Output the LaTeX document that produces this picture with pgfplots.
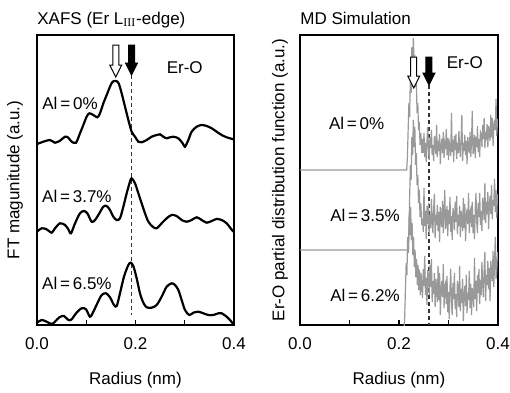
\documentclass[border=0pt]{standalone}
\usepackage{fontspec}
\setmainfont{Liberation Sans}
\usepackage{pgfplots}
\pgfplotsset{compat=1.18}
\usepackage{pgfplotstable}

% XAFS data (x in nm, y in arbitrary units)
\pgfplotstableread{
x y
0.000 181.0
0.0129 183.3
0.0264 185.0
0.0365 182.3
0.0467 184.3
0.0569 188.3
0.0636 187.3
0.0704 183.3
0.0792 182.3
0.0873 191.7
0.0941 200.0
0.1008 208.3
0.1063 211.7
0.1144 210.0
0.1225 207.7
0.1279 211.7
0.1347 221.7
0.1415 230.0
0.1482 238.3
0.1536 243.3
0.1604 244.0
0.1658 241.7
0.1719 231.7
0.1787 218.3
0.1855 205.0
0.1922 193.3
0.1990 188.3
0.2058 183.3
0.2125 182.7
0.2227 185.0
0.2328 188.3
0.2430 190.0
0.2497 190.7
0.2565 188.3
0.2633 186.7
0.2701 187.7
0.2768 188.3
0.2870 186.7
0.2958 181.7
0.3005 178.3
0.3073 185.0
0.3140 193.3
0.3242 198.3
0.3344 200.0
0.3445 199.0
0.3547 196.7
0.3648 193.3
0.3750 190.0
0.3851 187.7
0.3919 186.7
0.3986 185.7
}\xafsA
\pgfplotstableread{
x y
0.000 93.3
0.0095 96.7
0.0196 95.7
0.0298 92.3
0.0365 96.7
0.0467 101.7
0.0569 100.0
0.0636 95.7
0.0690 91.7
0.0772 101.7
0.0873 111.7
0.0954 114.0
0.1022 111.7
0.1110 103.3
0.1178 105.0
0.1266 111.7
0.1347 118.3
0.1415 119.0
0.1482 115.0
0.1550 108.3
0.1618 105.0
0.1685 106.7
0.1753 118.3
0.1821 131.7
0.1888 143.3
0.1922 146.7
0.1990 141.7
0.2058 131.7
0.2125 121.7
0.2193 111.7
0.2261 103.3
0.2349 98.3
0.2430 96.7
0.2531 101.7
0.2633 106.7
0.2734 110.0
0.2836 109.0
0.2937 105.0
0.3039 103.3
0.3140 105.0
0.3242 107.7
0.3344 105.0
0.3445 102.3
0.3547 104.0
0.3648 106.0
0.3750 105.0
0.3851 101.7
0.3932 96.7
0.3986 93.3
}\xafsB
\pgfplotstableread{
x y
0.000 2.3
0.0095 5.0
0.0196 3.3
0.0298 1.0
0.0365 3.3
0.0453 7.7
0.0548 9.0
0.0636 5.0
0.0704 5.7
0.0792 11.7
0.0907 16.7
0.0995 15.7
0.1076 8.3
0.1144 13.3
0.1225 21.7
0.1313 30.0
0.1401 31.7
0.1482 27.7
0.1563 20.0
0.1618 19.0
0.1685 31.7
0.1766 48.3
0.1855 60.0
0.1902 62.3
0.1956 59.0
0.2024 46.7
0.2091 31.7
0.2159 22.3
0.2227 17.7
0.2328 17.3
0.2430 20.0
0.2531 28.3
0.2633 38.3
0.2734 41.7
0.2802 40.0
0.2870 35.0
0.2937 25.0
0.3005 15.0
0.3093 10.0
0.3174 12.3
0.3276 13.3
0.3377 11.7
0.3479 10.0
0.3580 10.0
0.3682 11.7
0.3750 11.7
0.3851 8.3
0.3919 5.0
0.3986 1.0
}\xafsC

% MD data
\pgfplotstableread{
x y
0.0000 155
0.2155 155
0.2170 168
0.2185 195
0.2200 222
0.2215 208
0.2230 250
0.2245 232
0.2260 278
0.2275 255
0.2290 287
0.2305 262
0.2320 270
0.2335 238
0.2350 245
0.2365 212
0.2380 222
0.2395 195
0.2410 203
0.2425 180
0.2440 192
0.2460 172
0.2475 186
0.2490 172
0.2505 192
0.2520 168
0.2535 182
0.2550 163
0.2565 184
0.2580 198
0.2595 175
0.2610 165
0.2625 188
0.2640 177
0.2655 195
0.2670 170
0.2685 180
0.2700 164
0.2715 189
0.2730 182
0.2745 171
0.2760 200
0.2775 168
0.2790 184
0.2805 174
0.2820 191
0.2835 161
0.2850 179
0.2865 186
0.2880 172
0.2895 193
0.2910 167
0.2925 181
0.2940 176
0.2955 196
0.2970 170
0.2985 187
0.3000 165
0.3015 183
0.3030 179
0.3045 169
0.3060 212
0.3075 173
0.3090 185
0.3105 163
0.3120 189
0.3135 175
0.3150 191
0.3165 166
0.3180 182
0.3195 172
0.3210 194
0.3225 177
0.3240 168
0.3255 186
0.3270 210
0.3285 164
0.3300 182
0.3315 174
0.3330 190
0.3345 170
0.3360 184
0.3375 161
0.3390 188
0.3405 179
0.3420 172
0.3435 193
0.3450 168
0.3465 183
0.3480 214
0.3495 171
0.3510 176
0.3525 190
0.3540 167
0.3555 188
0.3570 178
0.3585 199
0.3600 173
0.3615 186
0.3630 168
0.3645 193
0.3660 191
0.3675 178
0.3690 200
0.3705 186
0.3720 207
0.3735 177
0.3750 193
0.3765 185
0.3780 201
0.3795 178
0.3810 199
0.3825 193
0.3840 184
0.3855 210
0.3870 188
0.3885 207
0.3900 179
0.3915 198
0.3930 205
0.3945 195
0.3960 226
0.3975 189
0.3990 206
}\mdA
\pgfplotstableread{
x y
0.0000 75
0.2190 75
0.2200 90
0.2215 128
0.2230 160
0.2245 145
0.2260 188
0.2275 170
0.2290 205
0.2305 178
0.2320 198
0.2335 160
0.2350 172
0.2365 140
0.2380 150
0.2395 122
0.2410 135
0.2425 108
0.2440 122
0.2460 100
0.2475 106
0.2490 93
0.2505 137
0.2520 99
0.2535 114
0.2550 86
0.2565 119
0.2580 101
0.2595 122
0.2610 90
0.2625 110
0.2640 97
0.2655 126
0.2670 104
0.2685 92
0.2700 116
0.2715 131
0.2730 87
0.2745 110
0.2760 100
0.2775 120
0.2790 94
0.2805 113
0.2820 83
0.2835 118
0.2850 107
0.2865 98
0.2880 124
0.2895 92
0.2910 111
0.2925 135
0.2940 96
0.2955 102
0.2970 119
0.2985 89
0.3000 115
0.3015 101
0.3030 128
0.3045 93
0.3060 109
0.3075 85
0.3090 117
0.3105 112
0.3120 95
0.3135 123
0.3150 103
0.3165 129
0.3180 91
0.3195 110
0.3210 99
0.3225 119
0.3240 88
0.3255 114
0.3270 106
0.3285 94
0.3300 127
0.3315 97
0.3330 121
0.3345 84
0.3360 108
0.3375 116
0.3390 101
0.3405 132
0.3420 92
0.3435 113
0.3450 116
0.3465 98
0.3480 123
0.3495 92
0.3510 110
0.3525 86
0.3540 115
0.3555 132
0.3570 103
0.3585 92
0.3600 122
0.3615 108
0.3630 132
0.3645 100
0.3660 114
0.3675 94
0.3690 127
0.3705 119
0.3720 105
0.3735 142
0.3750 102
0.3765 123
0.3780 111
0.3795 133
0.3810 96
0.3825 120
0.3840 129
0.3855 111
0.3870 140
0.3885 106
0.3900 125
0.3915 119
0.3930 146
0.3945 113
0.3960 135
0.3975 107
0.3990 131
}\mdB
\pgfplotstableread{
x y
0.2100 -5
0.2115 8
0.2130 35
0.2145 62
0.2160 50
0.2175 88
0.2190 72
0.2205 110
0.2220 90
0.2235 118
0.2250 85
0.2265 102
0.2280 70
0.2295 88
0.2310 58
0.2325 75
0.2340 48
0.2355 66
0.2370 40
0.2385 60
0.2400 35
0.2415 55
0.2430 30
0.2445 52
0.2460 38
0.2475 27
0.2490 56
0.2505 39
0.2520 69
0.2535 30
0.2550 47
0.2565 20
0.2580 55
0.2595 49
0.2610 30
0.2625 60
0.2640 38
0.2655 66
0.2670 23
0.2685 44
0.2700 31
0.2715 52
0.2730 18
0.2745 46
0.2760 37
0.2775 23
0.2790 59
0.2805 25
0.2820 52
0.2835 10
0.2850 36
0.2865 44
0.2880 28
0.2895 61
0.2910 17
0.2925 39
0.2940 42
0.2955 21
0.2970 49
0.2985 13
0.3000 33
0.3015 6
0.3030 37
0.3045 56
0.3060 23
0.3075 10
0.3090 42
0.3105 26
0.3120 52
0.3135 16
0.3150 31
0.3165 8
0.3180 44
0.3195 34
0.3210 18
0.3225 59
0.3240 14
0.3255 36
0.3270 22
0.3285 46
0.3300 4
0.3315 30
0.3330 39
0.3345 19
0.3360 50
0.3375 12
0.3390 32
0.3405 25
0.3420 54
0.3435 17
0.3450 41
0.3465 10
0.3480 37
0.3495 31
0.3510 18
0.3525 67
0.3540 26
0.3555 44
0.3570 14
0.3585 50
0.3600 32
0.3615 56
0.3630 21
0.3645 45
0.3660 30
0.3675 63
0.3690 40
0.3705 28
0.3720 55
0.3735 73
0.3750 24
0.3765 50
0.3780 40
0.3795 64
0.3810 36
0.3825 57
0.3840 24
0.3855 64
0.3870 53
0.3885 44
0.3900 74
0.3915 38
0.3930 61
0.3945 88
0.3960 46
0.3975 54
0.3990 73
}\mdC

\pgfplotsset{
  panel/.style={
    scale only axis,
    height=145pt,
    xmin=0, xmax=0.4, ymin=0, ymax=290,
    axis line style={line width=0.8pt},
    xtick={0,0.2,0.4},
    xticklabels={0.0,0.2,0.4},
    minor xtick={0.1,0.3},
    ytick=\empty,
    xtick pos=bottom,
    tick align=inside,
    major tick length=2.5pt,
    minor tick length=2.5pt,
    tick style={line width=0.6pt, black},
    xticklabel style={anchor=base, yshift=-12pt},
    xlabel={Radius (nm)},
    xlabel style={at={(axis description cs:0.5,0)}, anchor=base, yshift=-29.5pt},
    title style={at={(axis description cs:0,1)}, anchor=base west, yshift=-0.5pt, inner sep=0pt},
  },
}

\begin{document}
\fontsize{8.5}{10}\selectfont
\begin{tikzpicture}[font=\fontsize{8.5}{10}\selectfont]
\useasboundingbox (-18.5pt,-33.5pt) rectangle (236.5pt,162.5pt);
% ---------- left panel ----------
\begin{axis}[panel, width=98.5pt, at={(0pt,0pt)}, anchor=south west,
  title={XAFS (Er L\textsubscript{\fontspec{Liberation Serif}III}-edge)},
  ylabel={FT magunitude (a.u.)},
  ylabel style={at={(axis description cs:-0.112,0.5)}, anchor=center},
]
\draw[dashed, dash pattern=on 2pt off 1.5pt, line width=0.6pt, black!80] (axis cs:0.192,250) -- (axis cs:0.192,10);
\addplot[black, line width=1.1pt, smooth, tension=0.5] table {\xafsA};
\addplot[black, line width=1.1pt, smooth, tension=0.5] table {\xafsB};
\addplot[black, line width=1.1pt, smooth, tension=0.5] table {\xafsC};
% open arrow
\draw[fill=white, line width=0.5pt] ([xshift=-1.5pt]axis cs:0.160,280) -- ([xshift=-1.5pt]axis cs:0.160,260) -- ([xshift=-3pt]axis cs:0.160,260) -- (axis cs:0.160,248) -- ([xshift=3pt]axis cs:0.160,260) -- ([xshift=1.5pt]axis cs:0.160,260) -- ([xshift=1.5pt]axis cs:0.160,280) -- cycle;
% filled arrow
\draw[fill=black, line width=0.5pt] ([xshift=-1.5pt]axis cs:0.192,280) -- ([xshift=-1.5pt]axis cs:0.192,262) -- ([xshift=-3pt]axis cs:0.192,262) -- (axis cs:0.192,250) -- ([xshift=3pt]axis cs:0.192,262) -- ([xshift=1.5pt]axis cs:0.192,262) -- ([xshift=1.5pt]axis cs:0.192,280) -- cycle;
\node at (axis cs:0.300,257) {Er-O};
\node at (axis cs:0.067,222) {Al\,=\,0\%};
\node at (axis cs:0.081,129) {Al\,=\,3.7\%};
\node at (axis cs:0.081,42) {Al\,=\,6.5\%};
\end{axis}
% ---------- right panel ----------
\begin{axis}[panel, width=99pt, at={(131.5pt,0pt)}, anchor=south west,
  title={MD Simulation},
  ylabel={Er-O partial distribution function (a.u.)},
  ylabel style={at={(axis description cs:-0.101,0.5)}, anchor=center},
]
\draw[dashed, dash pattern=on 2pt off 1.5pt, line width=0.6pt, black!80] (axis cs:0.2606,240) -- (axis cs:0.2606,0);
\addplot[black!40, line width=0.6pt] table {\mdA};
\addplot[black!40, line width=0.6pt] table {\mdB};
\addplot[black!40, line width=0.6pt] table {\mdC};
\draw[fill=white, line width=0.5pt] ([xshift=-1.5pt]axis cs:0.2297,268) -- ([xshift=-1.5pt]axis cs:0.2297,249) -- ([xshift=-3pt]axis cs:0.2297,249) -- (axis cs:0.2297,237) -- ([xshift=3pt]axis cs:0.2297,249) -- ([xshift=1.5pt]axis cs:0.2297,249) -- ([xshift=1.5pt]axis cs:0.2297,268) -- cycle;
\draw[fill=black, line width=0.5pt] ([xshift=-1.5pt]axis cs:0.2606,268) -- ([xshift=-1.5pt]axis cs:0.2606,252) -- ([xshift=-3pt]axis cs:0.2606,252) -- (axis cs:0.2606,240) -- ([xshift=3pt]axis cs:0.2606,252) -- ([xshift=1.5pt]axis cs:0.2606,252) -- ([xshift=1.5pt]axis cs:0.2606,268) -- cycle;
\node at (axis cs:0.333,262) {Er-O};
\node at (axis cs:0.1145,202) {Al\,=\,0\%};
\node at (axis cs:0.1313,110) {Al\,=\,3.5\%};
\node at (axis cs:0.1313,30) {Al\,=\,6.2\%};
\end{axis}
\end{tikzpicture}
\end{document}
